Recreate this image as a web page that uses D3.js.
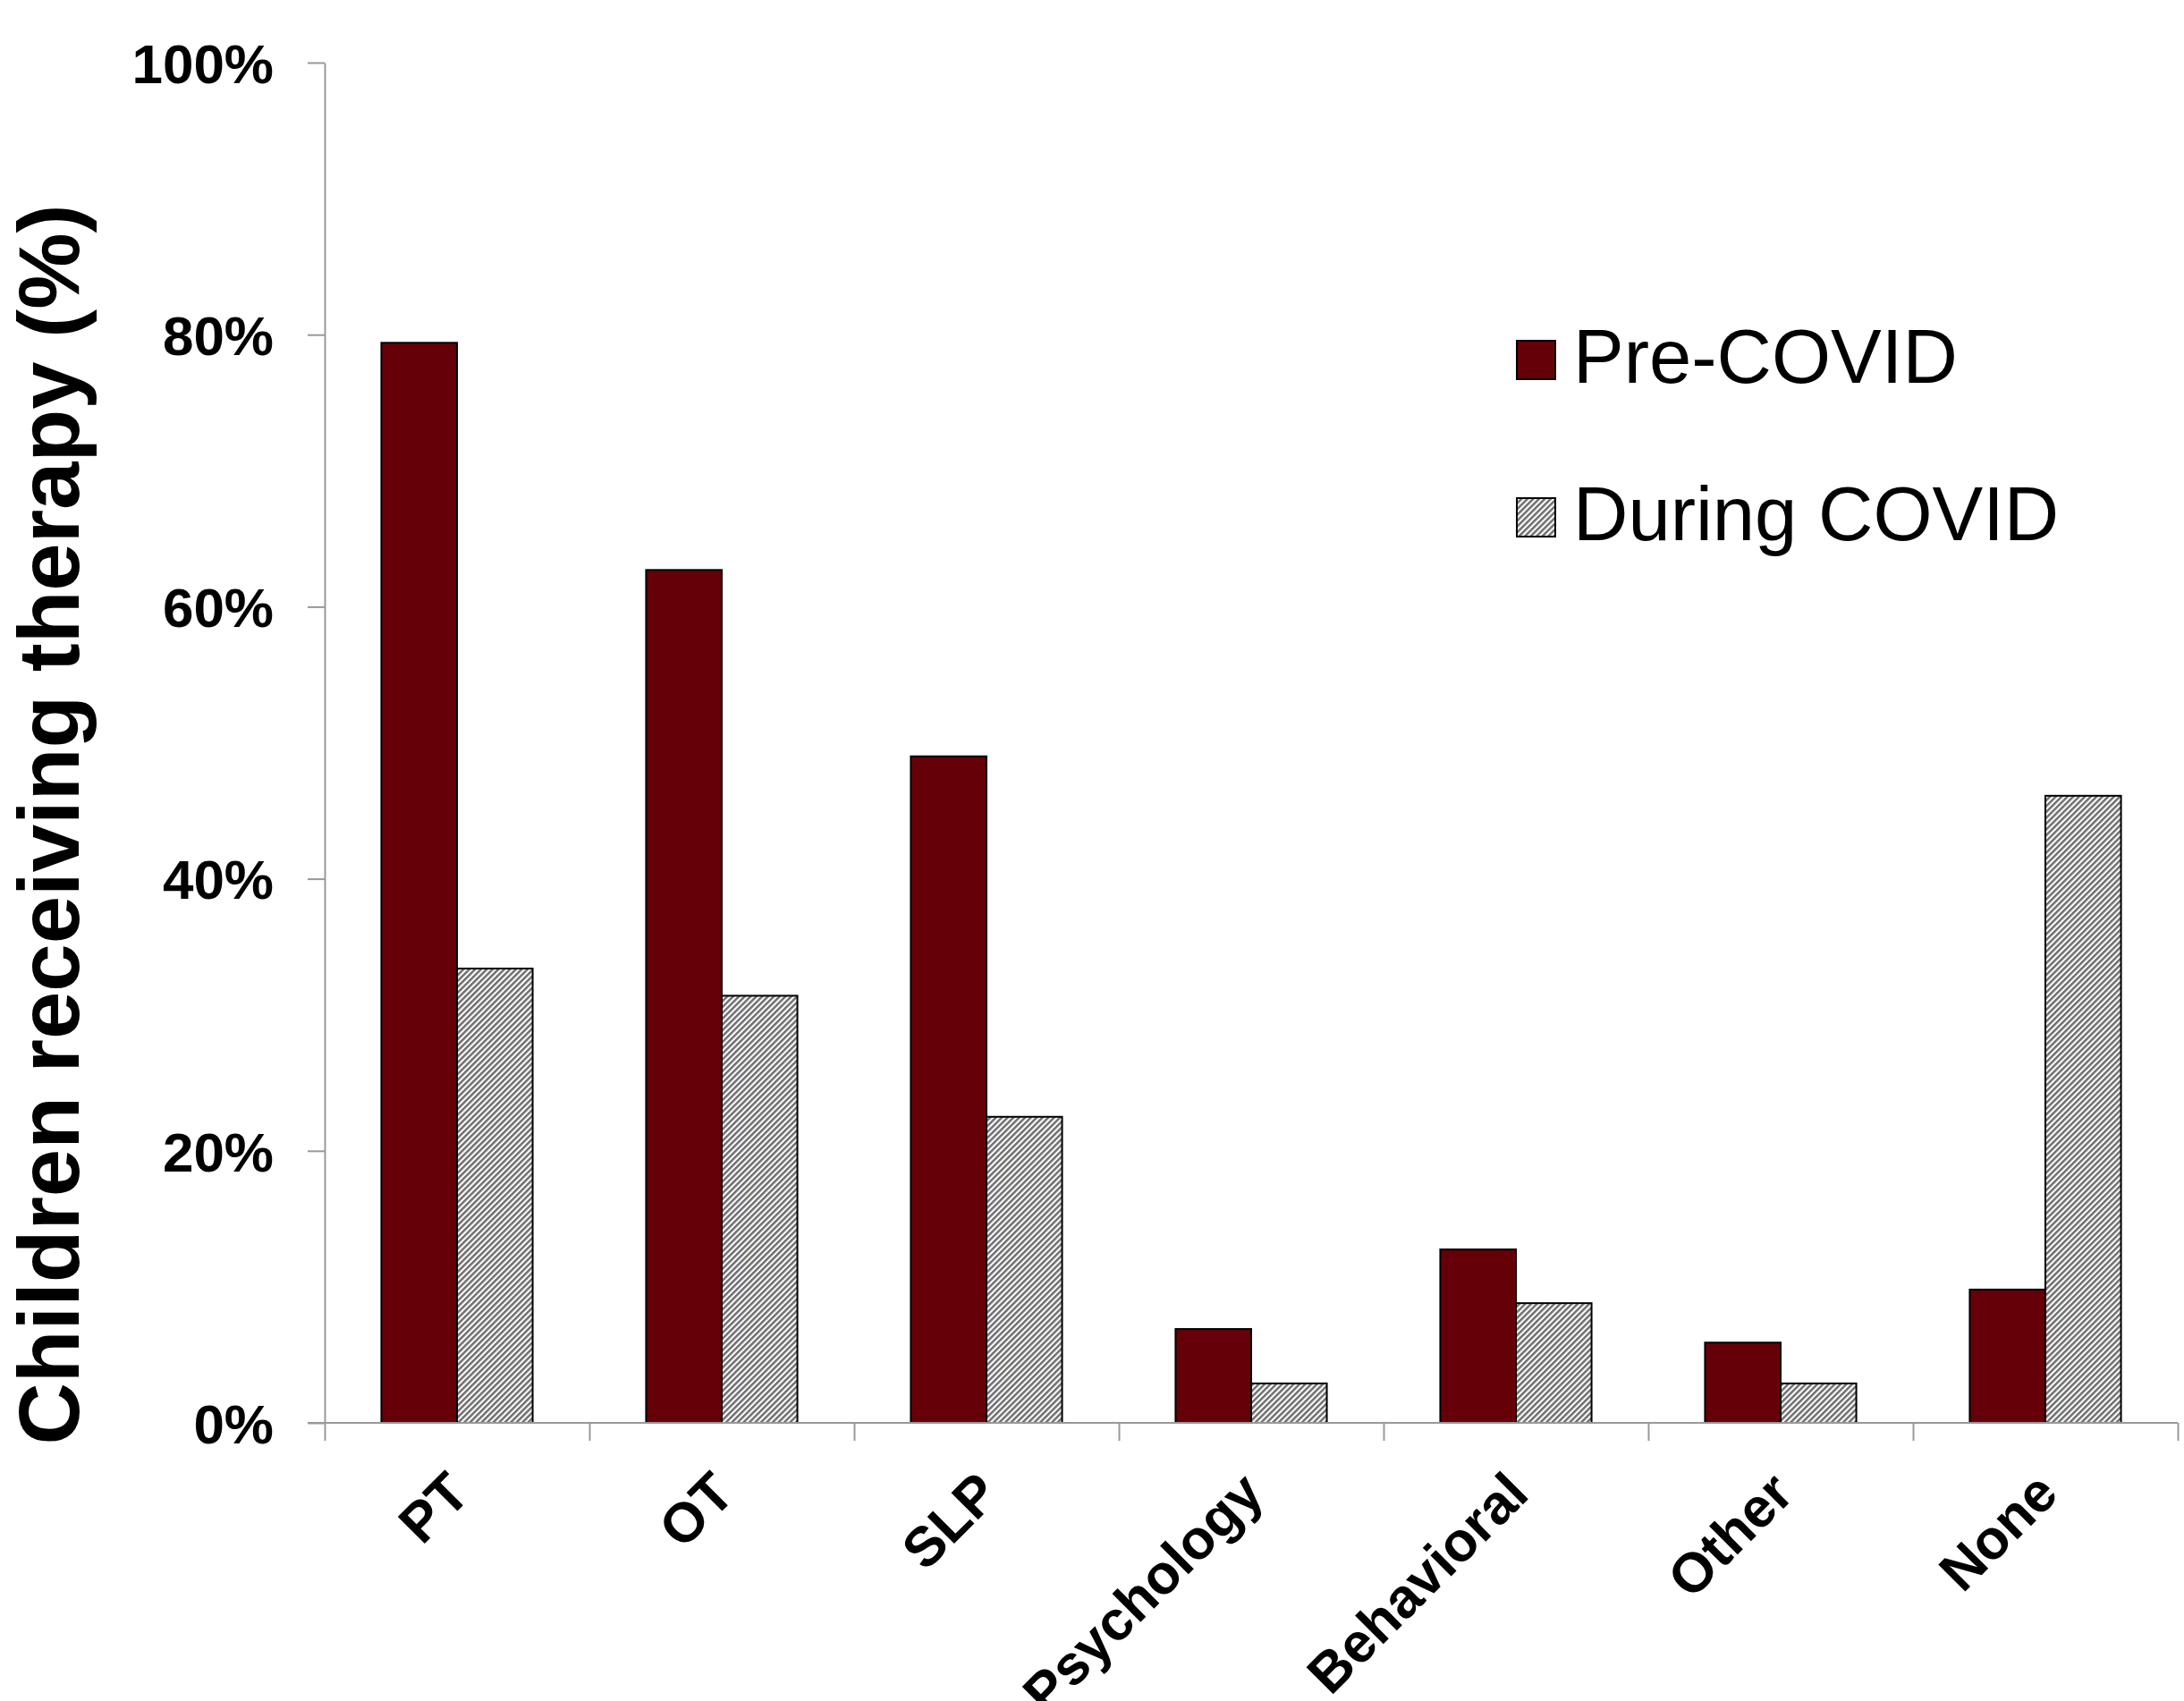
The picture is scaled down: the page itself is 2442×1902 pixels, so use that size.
<!DOCTYPE html>
<html>
<head>
<meta charset="utf-8">
<script src="https://cdn.jsdelivr.net/npm/d3@7"></script>
<style>
  html, body { margin: 0; padding: 0; background: #fff; }
  svg { display: block; }
  text { font-family: "Liberation Sans", Arial, sans-serif; fill: #000; }
</style>
</head>
<body>
<script>
// ---- data ----
const categories = ["PT", "OT", "SLP", "Psychology", "Behavioral", "Other", "None"];
const series = ["Pre-COVID", "During COVID"];
const preCovid = [79.4, 62.7, 49.0, 6.9, 12.75, 5.9, 9.8];
const duringCovid = [33.4, 31.4, 22.5, 2.9, 8.8, 2.9, 46.1];
const yTickValues = [0, 20, 40, 60, 80, 100];
const yTickLabels = ["0%", "20%", "40%", "60%", "80%", "100%"];
const yTitle = "Children receiving therapy (%)";

const W = 2442, H = 1902;
const svg = d3.select("body").append("svg").attr("width", W).attr("height", H);

const defs = svg.append("defs");
const pat = defs.append("pattern")
  .attr("id", "hatch").attr("patternUnits", "userSpaceOnUse")
  .attr("width", 4.6).attr("height", 4.6)
  .attr("patternTransform", "rotate(45)");
pat.append("rect").attr("width", 4.6).attr("height", 4.6).attr("fill", "#ffffff");
pat.append("rect").attr("width", 2.5).attr("height", 4.6).attr("fill", "#6e6e6e");

const fills = ["#660008", "url(#hatch)"];

const y = d3.scaleLinear().domain([0, 100]).range([1591, 70]);
const x0 = d3.scaleBand().domain(categories).range([363, 2435]).padding(0);
const barW = x0.bandwidth() / 3.5;
const x1 = d3.scaleBand().domain(series).range([0.75 * barW, x0.bandwidth() - 0.75 * barW]).padding(0);
const xEdges = d3.scaleLinear().domain([0, categories.length]).range([363, 2435]);

const axisColor = "#999999";

// bars
const rows = categories.map((c, i) => ({ cat: c, vals: [preCovid[i], duringCovid[i]] }));
const g = svg.append("g");
rows.forEach(r => {
  r.vals.forEach((v, si) => {
    g.append("rect")
      .attr("x", x0(r.cat) + x1(series[si]))
      .attr("y", y(v))
      .attr("width", x1.bandwidth())
      .attr("height", y(0) - y(v))
      .attr("fill", fills[si])
      .attr("stroke", "#000")
      .attr("stroke-width", 2);
  });
});

// y axis
const yAxis = svg.append("g").attr("transform", "translate(363,0)")
  .call(d3.axisLeft(y).tickValues(yTickValues)
    .tickFormat((d, i) => yTickLabels[i]).tickSize(19).tickSizeOuter(0).tickPadding(38));
yAxis.select(".domain").attr("stroke", axisColor).attr("stroke-width", 2);
yAxis.selectAll(".tick line").attr("stroke", axisColor).attr("stroke-width", 2);
yAxis.selectAll(".tick text")
  .attr("font-family", "Liberation Sans, Arial, sans-serif")
  .attr("font-size", 62).attr("font-weight", "bold").attr("fill", "#000")
  .attr("dy", "0.36em");

// x axis (ticks at category boundaries)
const xAxis = svg.append("g").attr("transform", "translate(0,1591)")
  .call(d3.axisBottom(xEdges).tickValues(d3.range(categories.length + 1))
    .tickFormat("").tickSize(20).tickSizeOuter(0));
xAxis.select(".domain").remove();
xAxis.selectAll(".tick line").attr("stroke", axisColor).attr("stroke-width", 2);
svg.append("line").attr("x1", 344).attr("x2", 2435).attr("y1", 1591).attr("y2", 1591)
  .attr("stroke", axisColor).attr("stroke-width", 2);

// category labels
svg.append("g").selectAll("text").data(categories).join("text")
  .attr("transform", d => `translate(${x0(d) + x0.bandwidth() / 2 + 17},1673) rotate(-45)`)
  .attr("text-anchor", "end")
  .attr("font-size", 62).attr("font-weight", "bold")
  .text(d => d);

// y title
svg.append("text")
  .attr("transform", "translate(88,922) rotate(-90)")
  .attr("text-anchor", "middle")
  .attr("font-size", 96).attr("font-weight", "bold")
  .text(yTitle);

// legend
const legY = [381, 557];
const leg = svg.append("g");
series.forEach((s, i) => {
  leg.append("rect").attr("x", 1696).attr("y", legY[i]).attr("width", 43).attr("height", 43)
    .attr("fill", fills[i]).attr("stroke", "#000").attr("stroke-width", 2);
  leg.append("text").attr("x", 1759).attr("y", legY[i] + 47)
    .attr("font-size", 85).text(s);
});
</script>
</body>
</html>
